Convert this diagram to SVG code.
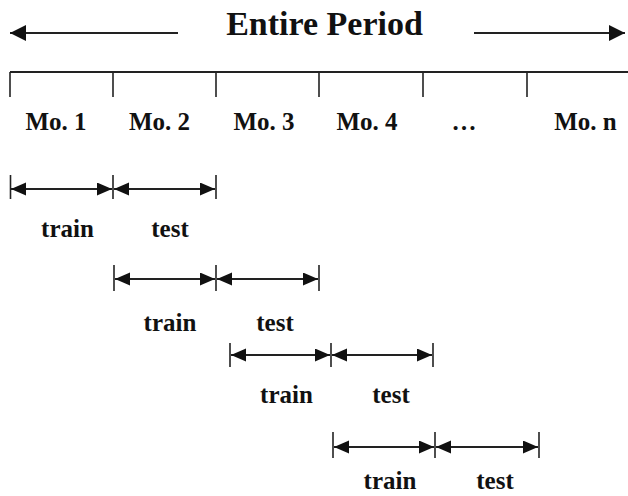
<svg xmlns="http://www.w3.org/2000/svg" width="628" height="496" viewBox="0 0 628 496">
  <style>
    text { font-family: "Liberation Serif", "Times New Roman", serif; font-weight: bold; fill: #111; text-anchor: middle; }
    .title { font-size: 34px; }
    .lbl { font-size: 25px; }
    .ln { stroke: #222; stroke-width: 2; fill: none; }
    .tick { stroke: #222; stroke-width: 1.6; }
    .span { stroke: #222; stroke-width: 2; marker-start: url(#ah); marker-end: url(#ah); }
    .big { stroke: #222; stroke-width: 2; }
  </style>
  <defs>
    <marker id="ah" markerUnits="userSpaceOnUse" markerWidth="16" markerHeight="14" refX="15" refY="6.5" orient="auto-start-reverse">
      <path d="M0,0 L15,6.5 L0,13 z" fill="#111"/>
    </marker>
    <marker id="bigh" markerUnits="userSpaceOnUse" markerWidth="18" markerHeight="18" refX="16" refY="8" orient="auto-start-reverse">
      <path d="M0,0 L16,8 L0,16 z" fill="#111"/>
    </marker>
  </defs>

  <g id="title">
    <text class="title" x="324.5" y="35">Entire Period</text>
  </g>

  <g id="timeline">
    <line class="ln" x1="10" y1="72" x2="628" y2="72"/>
    <line class="tick" x1="10" y1="72" x2="10" y2="97"/>
    <line class="tick" x1="113" y1="72" x2="113" y2="97"/>
    <line class="tick" x1="216" y1="72" x2="216" y2="97"/>
    <line class="tick" x1="319" y1="72" x2="319" y2="97"/>
    <line class="tick" x1="423" y1="72" x2="423" y2="97"/>
    <line class="tick" x1="527" y1="72" x2="527" y2="97"/>
  </g>

  <g id="months">
    <text class="lbl" x="56" y="130">Mo. 1</text>
    <text class="lbl" x="159.5" y="130">Mo. 2</text>
    <text class="lbl" x="264" y="130">Mo. 3</text>
    <text class="lbl" x="367" y="130">Mo. 4</text>
    <text class="lbl" x="464" y="130">…</text>
    <text class="lbl" x="585.5" y="130">Mo. n</text>
  </g>

  <g id="row1">
    <line class="tick" x1="10.5" y1="175" x2="10.5" y2="199"/>
    <line class="tick" x1="113" y1="175" x2="113" y2="199"/>
    <line class="tick" x1="216" y1="175" x2="216" y2="199"/>
    <text class="lbl" x="67.5" y="237">train</text>
    <text class="lbl" x="170" y="237">test</text>
  </g>

  <g id="row2">
    <line class="tick" x1="114" y1="265" x2="114" y2="291"/>
    <line class="tick" x1="216" y1="265" x2="216" y2="291"/>
    <line class="tick" x1="319" y1="265" x2="319" y2="291"/>
    <text class="lbl" x="170" y="331">train</text>
    <text class="lbl" x="275" y="331">test</text>
  </g>

  <g id="row3">
    <line class="tick" x1="230" y1="343" x2="230" y2="367"/>
    <line class="tick" x1="331" y1="343" x2="331" y2="367"/>
    <line class="tick" x1="433" y1="343" x2="433" y2="367"/>
    <text class="lbl" x="286.5" y="403">train</text>
    <text class="lbl" x="391" y="403">test</text>
  </g>

  <g id="row4">
    <line class="tick" x1="333" y1="432" x2="333" y2="458"/>
    <line class="tick" x1="435" y1="432" x2="435" y2="458"/>
    <line class="tick" x1="539" y1="432" x2="539" y2="458"/>
    <text class="lbl" x="390" y="489">train</text>
    <text class="lbl" x="495" y="489">test</text>
  </g>

  <g id="connectors">
    <line class="big" x1="10" y1="33" x2="178" y2="33" marker-start="url(#bigh)"/>
    <line class="big" x1="474" y1="33" x2="625" y2="33" marker-end="url(#bigh)"/>

    <line class="span" x1="11" y1="189" x2="112" y2="189"/>
    <line class="span" x1="114" y1="189" x2="215" y2="189"/>

    <line class="span" x1="115" y1="279" x2="215" y2="279"/>
    <line class="span" x1="217" y1="279" x2="318" y2="279"/>

    <line class="span" x1="231" y1="355" x2="330" y2="355"/>
    <line class="span" x1="332" y1="355" x2="432" y2="355"/>

    <line class="span" x1="334" y1="447" x2="434" y2="447"/>
    <line class="span" x1="436" y1="447" x2="538" y2="447"/>
  </g>
</svg>
